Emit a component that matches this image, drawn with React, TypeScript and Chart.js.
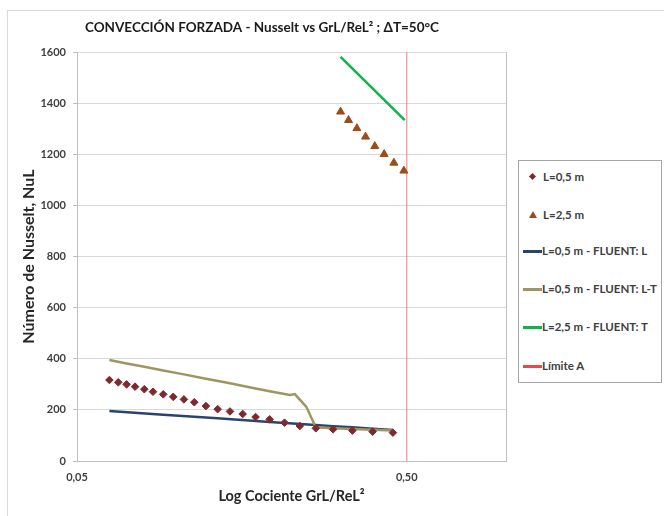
import React, { useEffect, useRef } from "react";
import { Chart, registerables } from "chart.js";
Chart.register(...registerables);

// ---- Data ----
const diamondX = [0.0627, 0.0667, 0.0707, 0.075, 0.080, 0.085, 0.0913, 0.0979, 0.1055, 0.1134, 0.123, 0.1335, 0.1455, 0.159, 0.174, 0.192, 0.213, 0.237, 0.265, 0.299, 0.342, 0.394, 0.454];
const diamondY = [317, 308, 300, 291, 281, 271, 261, 251, 241, 230, 215, 203, 194, 184, 172, 163, 150, 137, 128, 124, 119, 115, 111];

const triangleX = [0.315, 0.333, 0.353, 0.375, 0.400, 0.427, 0.457, 0.490];
const triangleY = [1367, 1334, 1302, 1269, 1232, 1201, 1167, 1136];

const fluentLX = [0.0627, 0.0913, 0.1335, 0.192, 0.265, 0.299, 0.342, 0.394, 0.454];
const fluentLY = [196, 181, 167, 153, 141, 136, 132, 126, 121];

const fluentLTX = [0.0627, 0.0707, 0.080, 0.0913, 0.1055, 0.123, 0.1455, 0.174, 0.192, 0.213, 0.221, 0.229, 0.237, 0.248, 0.263, 0.265, 0.299, 0.342, 0.394, 0.454];
const fluentLTY = [395, 382, 369, 354, 339, 322, 304, 284, 273, 262, 258, 262, 240, 212, 141, 132, 128, 125, 122, 119];

const fluentTX = [0.315, 0.493];
const fluentTY = [1582, 1334];

const limitX = [0.5, 0.5];
const limitY = [0, 1600];

const xTickValues = [0.05, 0.5];
const xTickLabels = ["0,05", "0,50"];

const seriesNames = [
  "L=0,5 m",
  "L=2,5 m",
  "L=0,5 m - FLUENT: L",
  "L=0,5 m - FLUENT: L-T",
  "L=2,5 m - FLUENT: T",
  "Límite A",
];

const zip = (xs: number[], ys: number[]) => xs.map((x, i) => ({ x, y: ys[i] }));

const FONT = "Lato, 'Open Sans', sans-serif";
const TEXT = "#404040";

const plotBorder = {
  id: "plotBorder",
  beforeDatasetsDraw(chart: any) {
    const { ctx, chartArea } = chart;
    ctx.save();
    ctx.strokeStyle = "#bfbfbf";
    ctx.lineWidth = 1;
    ctx.beginPath();
    ctx.moveTo(Math.round(chartArea.right) + 0.5, chartArea.top);
    ctx.lineTo(Math.round(chartArea.right) + 0.5, chartArea.bottom);
    ctx.stroke();
    ctx.restore();
  },
};

export default function App() {
  const ref = useRef<HTMLCanvasElement | null>(null);

  useEffect(() => {
    if (!ref.current) return;
    const chart = new Chart(ref.current, {
      type: "scatter",
      data: {
        datasets: [
          {
            label: seriesNames[5],
            data: zip(limitX, limitY),
            showLine: true,
            borderColor: "rgba(235,90,90,0.55)",
            borderWidth: 1.5,
            pointRadius: 0,
            order: 5,
          },
          {
            label: seriesNames[2],
            data: zip(fluentLX, fluentLY),
            showLine: true,
            borderColor: "#2a4470",
            borderWidth: 2.5,
            pointRadius: 0,
            order: 3,
          },
          {
            label: seriesNames[3],
            data: zip(fluentLTX, fluentLTY),
            showLine: true,
            borderColor: "#9e9662",
            borderWidth: 2.5,
            pointRadius: 0,
            order: 2,
          },
          {
            label: seriesNames[4],
            data: zip(fluentTX, fluentTY),
            showLine: true,
            borderColor: "#12b050",
            borderWidth: 2.5,
            pointRadius: 0,
            order: 4,
          },
          {
            label: seriesNames[0],
            data: zip(diamondX, diamondY),
            showLine: false,
            pointStyle: "rectRot",
            pointRadius: 3.8,
            backgroundColor: "#7d2a2e",
            borderColor: "#7d2a2e",
            borderWidth: 1,
            order: 1,
          },
          {
            label: seriesNames[1],
            data: zip(triangleX, triangleY),
            showLine: false,
            pointStyle: "triangle",
            pointRadius: 4.6,
            backgroundColor: "#9a4d17",
            borderColor: "#9a4d17",
            borderWidth: 1,
            order: 1,
          },
        ],
      },
      options: {
        animation: false,
        responsive: false,
        maintainAspectRatio: false,
        layout: { padding: { left: 18, right: 18, top: 0, bottom: 0 } },
        plugins: {
          legend: { display: false },
          tooltip: { enabled: false },
          title: {
            display: true,
            text: "CONVECCIÓN FORZADA - Nusselt vs GrL/ReL² ; ΔT=50°C",
            color: "#1a1a1a",
            font: { family: FONT, size: 13.5, weight: "bold" },
            padding: { top: 20, bottom: 16 },
          },
        },
        scales: {
          x: {
            type: "logarithmic",
            min: 0.05,
            max: 1.0,
            afterBuildTicks: (axis: any) => {
              axis.ticks = xTickValues.map((v) => ({ value: v }));
            },
            afterFit: (axis: any) => {
              axis.height = 55;
            },
            ticks: {
              autoSkip: false,
              maxRotation: 0,
              padding: 10,
              color: TEXT,
              font: { family: FONT, size: 11, weight: "bold" },
              callback: (value: any) => {
                const i = xTickValues.findIndex((v) => Math.abs(v - Number(value)) < 1e-9);
                return i >= 0 ? xTickLabels[i] : "";
              },
            },
            grid: { display: false, drawTicks: false },
            border: { display: true, color: "#bfbfbf", width: 1 },
            title: {
              display: true,
              text: "Log Cociente GrL/ReL²",
              color: "#262626",
              font: { family: FONT, size: 14.5, weight: "bold" },
              padding: { top: 0, bottom: 11 },
            },
          },
          y: {
            min: 0,
            max: 1600,
            afterFit: (axis: any) => {
              axis.width = 59;
            },
            ticks: {
              stepSize: 200,
              padding: 7,
              color: TEXT,
              font: { family: FONT, size: 11, weight: "bold" },
              callback: (value: any) => String(value),
            },
            grid: { color: "#d9d9d9", tickLength: 4, drawTicks: true, tickColor: "#bfbfbf" },
            border: { display: true, color: "#bfbfbf", width: 1 },
            title: {
              display: true,
              text: "Número de Nusselt, NuL",
              color: "#262626",
              font: { family: FONT, size: 16, weight: "bold" },
              padding: { top: 1, bottom: 0 },
            },
          },
        },
      },
      plugins: [plotBorder],
    });
    return () => chart.destroy();
  }, []);

  const legendRows = [
    { kind: "diamond", color: "#7d2a2e" },
    { kind: "triangle", color: "#9a4d17" },
    { kind: "line", color: "#2a4470" },
    { kind: "line", color: "#9e9662" },
    { kind: "line", color: "#12b050" },
    { kind: "line", color: "#e8474b" },
  ];
  const rowTops = [17, 55, 91, 129, 167, 206];

  return (
    <div style={{ position: "fixed", left: 0, top: 0, width: 664, height: 516, overflow: "hidden", background: "#fff" }}>
      <div style={{ position: "absolute", left: 7, top: 10, width: 720, height: 600, border: "1px solid #d9d9d9", boxSizing: "border-box" }} />
      <canvas ref={ref} width={524} height={516} style={{ position: "absolute", left: 0, top: 0, width: 524, height: 516 }} />
      <div
        style={{
          position: "absolute",
          left: 518,
          top: 160,
          width: 144,
          height: 223,
          border: "1px solid #a6a6a6",
          boxSizing: "border-box",
          background: "#fff",
          fontFamily: FONT,
          fontWeight: "bold",
          fontSize: 11.5,
          color: TEXT,
        }}
      >
        {legendRows.map((r, i) => (
          <div key={i} style={{ position: "absolute", left: 0, top: rowTops[i] - 1 - 7, height: 14, width: 144, whiteSpace: "nowrap" }}>
            {r.kind === "diamond" && (
              <span style={{ position: "absolute", left: 11, top: 4, width: 5, height: 5, background: r.color, transform: "rotate(45deg)" }} />
            )}
            {r.kind === "triangle" && (
              <span
                style={{
                  position: "absolute",
                  left: 10,
                  top: 3,
                  width: 0,
                  height: 0,
                  borderLeft: "4px solid transparent",
                  borderRight: "4px solid transparent",
                  borderBottom: `7px solid ${r.color}`,
                }}
              />
            )}
            {r.kind === "line" && (
              <span style={{ position: "absolute", left: 4, top: 6, width: 19, height: 2.5, background: r.color }} />
            )}
            <span style={{ position: "absolute", left: r.kind === "line" ? 23 : 24, top: 0, lineHeight: "14px" }}>{seriesNames[i]}</span>
          </div>
        ))}
      </div>
    </div>
  );
}
